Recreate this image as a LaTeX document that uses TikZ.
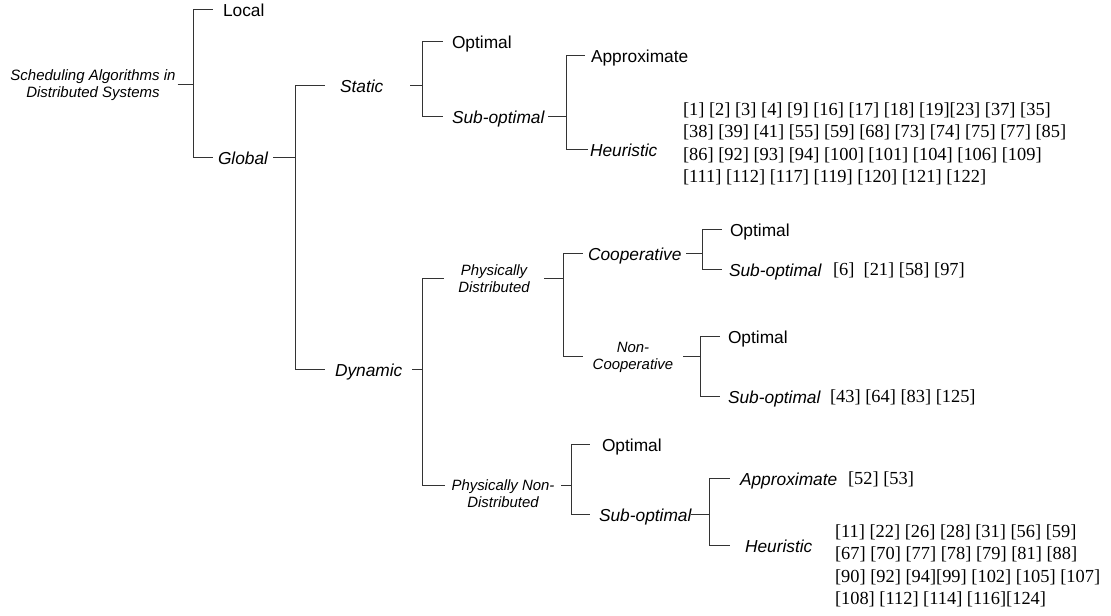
\documentclass[tikz,border=0pt]{standalone}
\usepackage{fontspec}
\setmainfont{Liberation Serif}
\setsansfont{Liberation Sans}
\begin{document}
\begin{tikzpicture}[x=0.75pt,y=-0.75pt,
  every node/.style={inner sep=0pt, outer sep=0pt},
  branch/.style={draw=black!80, line width=0.75pt},
  lbl/.style={anchor=west, font=\sffamily\fontsize{13}{15}\selectfont,
    text height=9.3pt, text depth=0pt, inner xsep=#1},
  lbl/.default=4.5pt,
  ilbl/.style={lbl=#1, font=\sffamily\itshape\fontsize{13}{15}\selectfont},
  ilbl/.default=4.5pt,
  rootlbl/.style={align=center, font=\sffamily\itshape\fontsize{11.25}{12.4}\selectfont},
  twoline/.style={align=center, inner xsep=#1, font=\sffamily\itshape\fontsize{11.2}{12.75}\selectfont},
  cite/.style={anchor=west, align=left, font=\rmfamily\fontsize{13.8}{16.8}\selectfont},
]
\useasboundingbox (0,0) rectangle (1111,616);

% junction columns
\coordinate (j0) at (193,0);
\coordinate (j1) at (295,0);
\coordinate (j2) at (422,0);
\coordinate (j3) at (566,0);
\coordinate (jd) at (422,0);
\coordinate (j5) at (563,0);
\coordinate (j6) at (702,0);
\coordinate (j7) at (700,0);
\coordinate (j8) at (571,0);
\coordinate (j9) at (709,0);

% labels
\node[rootlbl] (root) at (93,85) {Scheduling Algorithms in\\Distributed Systems};
\node[lbl=7.5pt] (local) at (213,10) {Local};
\node[ilbl=3.75pt] (global) at (213,158) {Global};

\node[ilbl=11.25pt] (static) at (325,86) {Static};
\node[lbl=6.75pt] (sopt) at (443,42) {Optimal};
\node[ilbl=6.75pt] (ssub) at (443,117) {Sub-optimal};
\node[lbl=4.5pt] (sapp) at (585,56) {Approximate};
\node[ilbl=1.5pt] (sheur) at (588,150) {Heuristic};
\node[cite] (scite) at (683,144) {[1] [2] [3] [4] [9] [16] [17] [18] [19][23] [37] [35]\\ {}%
  [38] [39] [41] [55] [59] [68] [73] [74] [75] [77] [85]\\ {}%
  [86] [92] [93] [94] [100] [101] [104] [106] [109]\\ {}%
  [111] [112] [117] [119] [120] [121] [122]};

\node[ilbl=7.5pt] (dyn) at (325,370) {Dynamic};
\node[twoline=11pt] (pd) at (494,279) {Physically\\Distributed};
\node[ilbl=3.75pt] (coop) at (583,254) {Cooperative};
\node[lbl=6pt] (coopt) at (722,230) {Optimal};
\node[ilbl=5.25pt] (cosub) at (722,270) {Sub-optimal};
\node[cite] (cocite) at (833,270) {[6]\ \ [21] [58] [97]};
\node[twoline=7.5pt] (ncoop) at (633,357) {Non-\\Cooperative};
\node[lbl=6pt] (ncopt) at (720,337) {Optimal};
\node[ilbl=6pt] (ncsub) at (720,397) {Sub-optimal};
\node[cite] (nccite) at (830,397) {[43] [64] [83] [125]};

\node[twoline=5.25pt] (pnd) at (503,493.5) {Physically Non-\\Distributed};
\node[lbl=9pt] (pndopt) at (590,445) {Optimal};
\node[ilbl=6.75pt] (pndsub) at (590,515) {Sub-optimal};
\node[ilbl=7.5pt] (pndapp) at (730,479) {Approximate};
\node[cite] (pndappcite) at (848,479) {[52] [53]};
\node[ilbl=11.25pt] (pndheur) at (730,546) {Heuristic};
\node[cite] (pndcite) at (835,566) {[11] [22] [26] [28] [31] [56] [59]\\ {}%
  [67] [70] [77] [78] [79] [81] [88]\\ {}%
  [90] [92] [94][99] [102] [105] [107]\\ {}%
  [108] [112] [114] [116][124]};

% first-line anchors of the two-line label
\coordinate (pndw) at ([yshift=6pt]pnd.west);
\coordinate (pnde) at ([yshift=6pt]pnd.east);

% root
\draw[branch] ([xshift=1.5pt]root.east) -- (j0 |- root.east);
\draw[branch] (j0 |- local.west) -- (j0 |- global.west);
\draw[branch] (j0 |- local.west) -- (local.west);
\draw[branch] (j0 |- global.west) -- (global.west);

% global
\draw[branch] (global.east) -- (j1 |- global.east);
\draw[branch] (j1 |- static.west) -- (j1 |- dyn.west);
\draw[branch] (j1 |- static.west) -- (static.west);
\draw[branch] (j1 |- dyn.west) -- (dyn.west);

% static
\draw[branch] ([xshift=9pt]static.east) -- (j2 |- static.east);
\draw[branch] (j2 |- sopt.west) -- (j2 |- ssub.west);
\draw[branch] (j2 |- sopt.west) -- (sopt.west);
\draw[branch] (j2 |- ssub.west) -- (ssub.west);

% static / sub-optimal
\draw[branch] ([xshift=-3.75pt]ssub.east) -- (j3 |- ssub.east);
\draw[branch] (j3 |- sapp.west) -- (j3 |- sheur.west);
\draw[branch] (j3 |- sapp.west) -- (sapp.west);
\draw[branch] (j3 |- sheur.west) -- (sheur.west);

% dynamic
\draw[branch] (dyn.east) -- (jd |- dyn.east);
\draw[branch] (jd |- pd.west) -- (jd |- pndw);
\draw[branch] (jd |- pd.west) -- (pd.west);
\draw[branch] (jd |- pndw) -- (pndw);

% physically distributed
\draw[branch] (pd.east) -- (j5 |- pd.east);
\draw[branch] (j5 |- coop.west) -- (j5 |- ncoop.west);
\draw[branch] (j5 |- coop.west) -- (coop.west);
\draw[branch] (j5 |- ncoop.west) -- (ncoop.west);

% cooperative
\draw[branch] (coop.east) -- (j6 |- coop.east);
\draw[branch] (j6 |- coopt.west) -- (j6 |- cosub.west);
\draw[branch] (j6 |- coopt.west) -- (coopt.west);
\draw[branch] (j6 |- cosub.west) -- (cosub.west);

% non-cooperative
\draw[branch] (ncoop.east) -- (j7 |- ncoop.east);
\draw[branch] (j7 |- ncopt.west) -- (j7 |- ncsub.west);
\draw[branch] (j7 |- ncopt.west) -- (ncopt.west);
\draw[branch] (j7 |- ncsub.west) -- (ncsub.west);

% physically non-distributed
\draw[branch] (pnde) -- (j8 |- pnde);
\draw[branch] (j8 |- pndopt.west) -- (j8 |- pndsub.west);
\draw[branch] (j8 |- pndopt.west) -- (pndopt.west);
\draw[branch] (j8 |- pndsub.west) -- (pndsub.west);

% physically non-distributed / sub-optimal
\draw[branch] ([xshift=-6.75pt]pndsub.east) -- (j9 |- pndsub.east);
\draw[branch] (j9 |- pndapp.west) -- (j9 |- pndheur.west);
\draw[branch] (j9 |- pndapp.west) -- (pndapp.west);
\draw[branch] (j9 |- pndheur.west) -- (pndheur.west);
\end{tikzpicture}
\end{document}
